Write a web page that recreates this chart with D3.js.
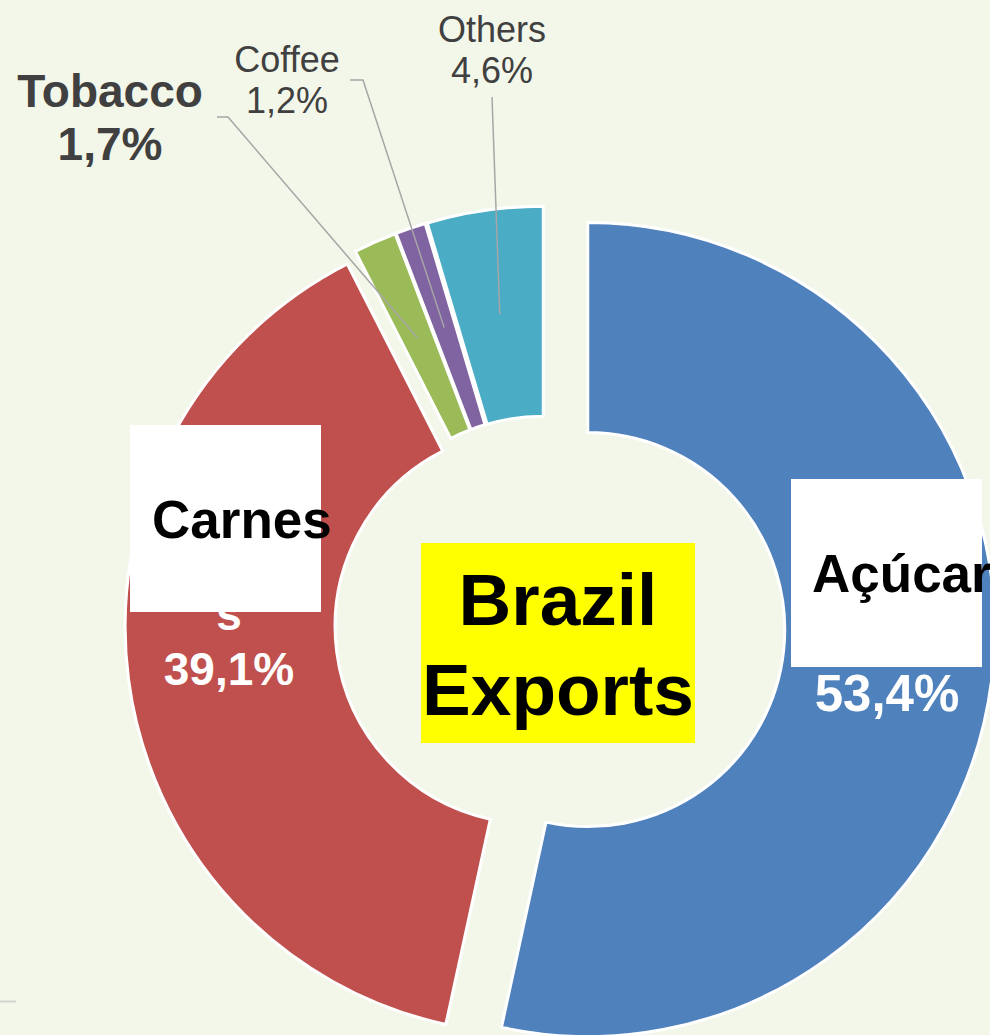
<!DOCTYPE html>
<html>
<head>
<meta charset="utf-8">
<script src="https://cdn.jsdelivr.net/npm/d3@7"></script>
<style>
  html, body { margin: 0; padding: 0; background: #f3f7ea; }
  svg { display: block; font-family: "Liberation Sans", Arial, sans-serif; }
</style>
</head>
<body>
<div id="chart-area"></div>
<script>
// Data
var categories = ["Açúcar", "Carnes", "Tobacco", "Coffee", "Others"];
var shares = [53.4, 39.1, 1.7, 1.2, 4.6];
var colors = ["#4f81bd", "#c0504d", "#9bbb59", "#8064a2", "#4bacc6"];

var width = 990, height = 1035;

// Layout: ring center, radii, explode distance per slice
var cx = 545, cy = 625;
var innerR = 197, outerR = 407;
var explode = [43, 13, 12, 12, 12];

var locale = d3.formatLocale({ decimal: ",", thousands: ".", grouping: [3], currency: ["", ""] });
var pct = function(v) { return locale.format(".1f")(v) + "%"; };

var svg = d3.select("#chart-area").append("svg")
    .attr("width", width)
    .attr("height", height);

svg.append("rect")
    .attr("width", width)
    .attr("height", height)
    .attr("fill", "#f3f7ea");

// small grey mark at bottom-left
svg.append("line")
    .attr("x1", 0).attr("x2", 16)
    .attr("y1", 1001.5).attr("y2", 1001.5)
    .attr("stroke", "#d2d2d2")
    .attr("stroke-width", 2);

var pie = d3.pie().sort(null).value(function(d) { return d; });
var arcs = pie(shares);

var arc = d3.arc()
    .innerRadius(innerR)
    .outerRadius(outerR);

function offset(d, i) {
    var mid = (d.startAngle + d.endAngle) / 2;
    return [Math.sin(mid) * explode[i], -Math.cos(mid) * explode[i]];
}

var g = svg.append("g")
    .attr("transform", "translate(" + cx + "," + cy + ")");

g.selectAll(".slice")
    .data(arcs)
    .enter().append("path")
    .attr("class", "slice")
    .attr("transform", function(d, i) {
        var o = offset(d, i);
        return "translate(" + o[0] + "," + o[1] + ")";
    })
    .attr("d", arc)
    .attr("fill", function(d, i) { return colors[i]; })
    .attr("stroke", "#ffffff")
    .attr("stroke-width", 3)
    .attr("stroke-linejoin", "miter");

// Outside labels (small slices) with leader lines
var outside = [
    { i: 2, x: 110, y: 106.5, size: 46, weight: "bold", lh: 53.5, from: [217, 117], knee: [228, 117] },
    { i: 3, x: 287, y: 72, size: 36, weight: "normal", lh: 41, from: [350, 80], knee: [363, 80] },
    { i: 4, x: 492, y: 42, size: 36, weight: "normal", lh: 41, from: [492, 97], knee: null }
];

outside.forEach(function(l) {
    var d = arcs[l.i];
    var o = offset(d, l.i);
    var c = arc.centroid(d);
    var end = [cx + c[0] + o[0], cy + c[1] + o[1]];
    var pts = [l.from];
    if (l.knee) pts.push(l.knee);
    pts.push(end);
    svg.append("path")
        .attr("d", d3.line()(pts))
        .attr("fill", "none")
        .attr("stroke", "#a6a6a6")
        .attr("stroke-width", 1.5);

    var t = svg.append("text")
        .attr("text-anchor", "middle")
        .attr("font-size", l.size + "px")
        .attr("font-weight", l.weight)
        .attr("fill", "#404040");
    t.append("tspan").attr("x", l.x).attr("y", l.y).text(categories[l.i]);
    t.append("tspan").attr("x", l.x).attr("y", l.y + l.lh).text(pct(shares[l.i]));
});

// Carnes label (wrapped white text, its first line covered by a white box)
var carnes = svg.append("text")
    .attr("text-anchor", "middle")
    .attr("font-size", "46px")
    .attr("font-weight", "bold")
    .attr("fill", "#ffffff");
carnes.append("tspan").attr("x", 229).attr("y", 630).text("s");
carnes.append("tspan").attr("x", 229).attr("y", 685).text(pct(shares[1]));

svg.append("rect")
    .attr("x", 130).attr("y", 425)
    .attr("width", 191).attr("height", 187)
    .attr("fill", "#ffffff");

svg.append("text")
    .attr("x", 152).attr("y", 538)
    .attr("font-size", "53px")
    .attr("font-weight", "bold")
    .attr("fill", "#000000")
    .text(categories[1]);

// Açúcar label
svg.append("text")
    .attr("x", 887).attr("y", 711)
    .attr("text-anchor", "middle")
    .attr("font-size", "51px")
    .attr("font-weight", "bold")
    .attr("fill", "#ffffff")
    .text(pct(shares[0]));

svg.append("rect")
    .attr("x", 791).attr("y", 479)
    .attr("width", 191).attr("height", 188)
    .attr("fill", "#ffffff");

svg.append("text")
    .attr("x", 812).attr("y", 592)
    .attr("font-size", "53px")
    .attr("font-weight", "bold")
    .attr("fill", "#000000")
    .text(categories[0]);

// Center title
svg.append("rect")
    .attr("x", 421).attr("y", 543)
    .attr("width", 274).attr("height", 200)
    .attr("fill", "#ffff00");

var title = svg.append("text")
    .attr("text-anchor", "middle")
    .attr("font-size", "73px")
    .attr("font-weight", "bold")
    .attr("fill", "#000000");
title.append("tspan").attr("x", 558).attr("y", 625).text("Brazil");
title.append("tspan").attr("x", 558).attr("y", 715).text("Exports");
</script>
</body>
</html>
